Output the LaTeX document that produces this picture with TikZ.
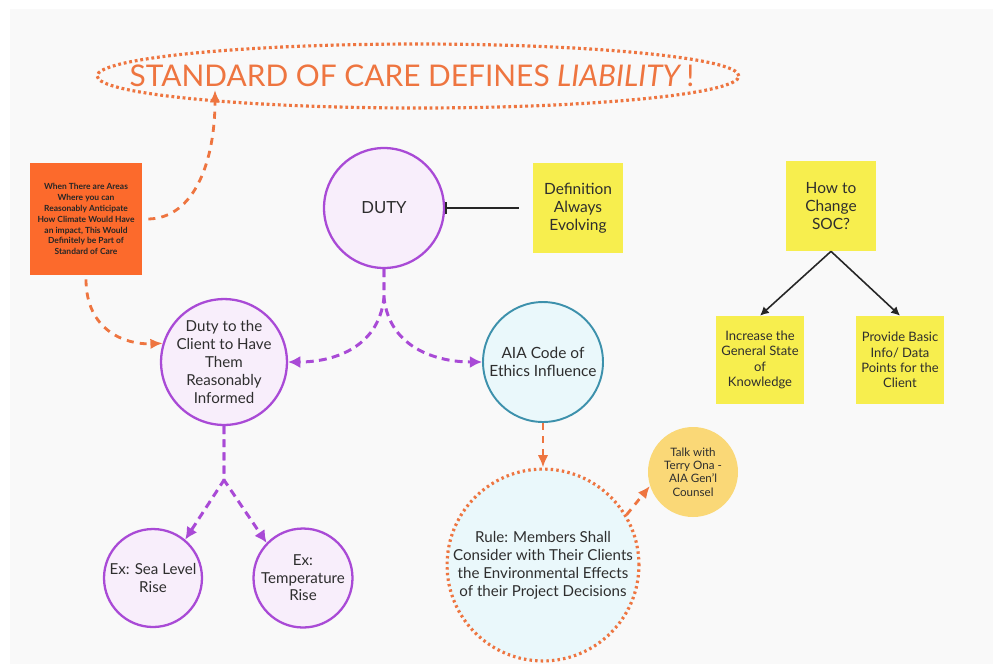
\documentclass[tikz,border=0pt]{standalone}
\usepackage{fontspec}
\setmainfont{Lato}
\usepackage{tikz}
\usetikzlibrary{positioning}
\usetikzlibrary{shapes.geometric}
\usetikzlibrary{arrows.meta}

\definecolor{socorange}{HTML}{EE7540}
\definecolor{boxorange}{HTML}{FC6A2C}
\definecolor{socpurple}{HTML}{A94AD6}
\definecolor{lilac}{HTML}{F8EEFB}
\definecolor{socteal}{HTML}{3D91AC}
\definecolor{icecyan}{HTML}{EAF8FB}
\definecolor{sticky}{HTML}{F7EE4E}
\definecolor{peach}{HTML}{FAD877}
\definecolor{inktext}{HTML}{2E2E2E}
\definecolor{panel}{HTML}{F9F9F9}

\begin{document}
\begin{tikzpicture}[x=0.02cm, y=-0.02cm,
                          every node/.style={text=inktext, inner sep=0pt, align=center},
                          purplenode/.style={circle, draw=socpurple, fill=lilac, line width=1.3pt},
                          cyannode/.style={circle, draw=socteal, fill=icecyan, line width=1.1pt},
                          stickynode/.style={rectangle, fill=sticky, minimum size=1.8cm},
                          smallsticky/.style={rectangle, fill=sticky, minimum size=1.76cm, font=\fontsize{7.4}{8.8}\selectfont},
                          purplearrow/.style={draw=socpurple, line width=1.7pt, dash pattern=on 4.5pt off 3pt, -{Latex[length=7pt, width=7pt]}},
                          orangearrow/.style={draw=socorange, line width=1.6pt, dash pattern=on 4pt off 3.5pt, -{Latex[length=7pt, width=6pt]}},
                          blackarrow/.style={draw=black!85, line width=0.9pt, -{Latex[length=5pt, width=5pt]}},
                      ]
                      \useasboundingbox (0,0) rectangle (993,664);
                      \fill[panel] (10,9) rectangle (993,664);

                      %Nodes
                      \node[text=socorange, font=\fontsize{17}{20}\selectfont]
                            (title) at (412,76) {STANDARD OF CARE DEFINES \textit{LIABILITY}\,!};
                      \draw[socorange, line width=1.8pt, dash pattern=on 1.6pt off 1.6pt]
                            (title.center) ++(6,0) ellipse [x radius=6.42cm, y radius=0.64cm];
                      \node[rectangle, fill=boxorange, minimum size=2.24cm, text=black!85,
                            font=\fontsize{4.8}{6.2}\selectfont\bfseries]
                            (areas) at (86,219) {When There are Areas\\Where you can\\Reasonably Anticipate\\How Climate Would Have\\an impact, This Would\\Definitely be Part of\\Standard of Care};
                      \node[purplenode, minimum size=2.4cm, font=\fontsize{9.5}{11}\selectfont] (duty) at (384,208) {DUTY};
                      \node[stickynode, font=\fontsize{8.8}{10.2}\selectfont] (defn) at (578,208) {Definition\\Always\\Evolving};
                      \node[stickynode, font=\fontsize{8.8}{10.2}\selectfont] (howto) at (831,206) {How to\\Change\\SOC?};
                      \node[smallsticky] (increase) at (760,360) {Increase the\\General State\\of\\Knowledge};
                      \node[smallsticky] (provide)  at (900,360) {Provide Basic\\Info/ Data\\Points for the\\Client};
                      \node[purplenode, minimum size=2.4cm, font=\fontsize{8.6}{10.2}\selectfont] (client) at (224,362) {Duty to the\\Client to Have\\Them\\Reasonably\\Informed};
                      \node[cyannode, minimum size=2.4cm, font=\fontsize{8.8}{10.2}\selectfont] (aia) at (543,362) {AIA Code of\\Ethics Influence};
                      \node[purplenode, minimum size=1.96cm, font=\fontsize{8.6}{10}\selectfont] (sealevel) at (153,578) {Ex: Sea Level\\Rise};
                      \node[purplenode, minimum size=1.98cm, font=\fontsize{8.6}{10}\selectfont] (temprise) at (303,578) {Ex:\\Temperature\\Rise};
                      \node[circle, draw=socorange, fill=icecyan, line width=1.8pt, dash pattern=on 1.4pt off 1.8pt,
                            minimum size=3.8cm, font=\fontsize{8.6}{10.2}\selectfont]
                            (rule) at (543,565) {Rule: Members Shall\\Consider with Their Clients\\the Environmental Effects\\of their Project Decisions};
                      \node[circle, fill=peach, minimum size=1.8cm, font=\fontsize{6.6}{7.6}\selectfont] (talk) at (693,472) {Talk with\\Terry Ona -\\AIA Gen'l\\Counsel};

                      \coordinate (titletip) at (215,90);
                      \coordinate (dutysplit) at (384,298);
                      \coordinate (clientsplit) at (224,480);

                      %Lines
                      \draw[orangearrow] (areas.east) ++(6,0) .. controls (195,218) and (215,160) .. (titletip);
                      \draw[orangearrow] (areas.south) ++(0,4) .. controls (86,330) and (125,345) .. (client.163);
                      \draw[purplearrow] (duty.south) -- (dutysplit) .. controls (378,350) and (330,362) .. (client.east);
                      \draw[purplearrow] (duty.south) -- (dutysplit) .. controls (390,350) and (440,362) .. (aia.west);
                      \draw[purplearrow] (client.south) -- (clientsplit) -- (sealevel.50);
                      \draw[purplearrow] (client.south) -- (clientsplit) -- (temprise.136);
                      \draw[{Bar[width=7pt]}-, draw=black!85, line width=1.1pt, shorten >=8pt] (duty.east) -- (defn.west);
                      \draw[blackarrow] (howto.south) -- (increase.north);
                      \draw[blackarrow] (howto.south) -- (provide.north);
                      \draw[orangearrow] (aia.south) -- (rule.north);
                      \draw[orangearrow] (rule.31) -- (talk.198);
                  \end{tikzpicture}
\end{document}
